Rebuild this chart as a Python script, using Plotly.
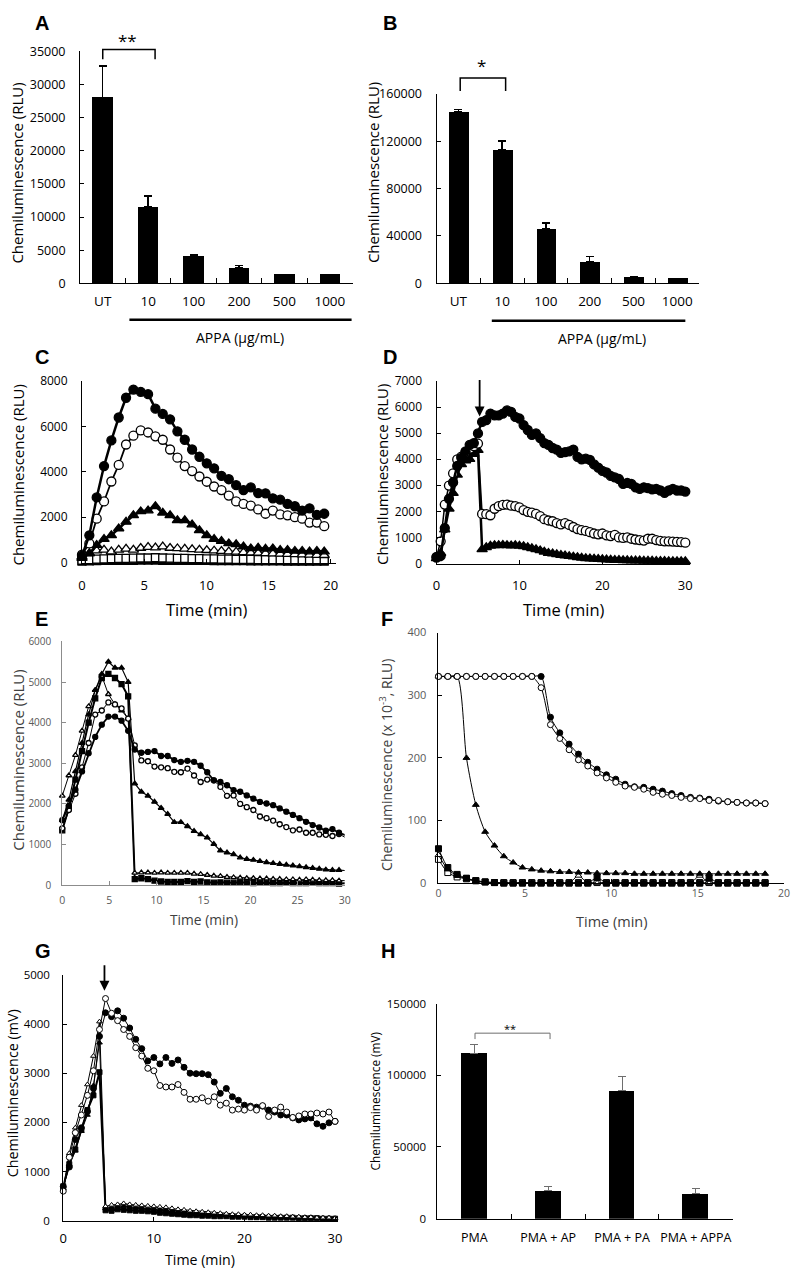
import plotly.graph_objects as go

W, H = 797, 1275
FONT = "Open Sans"


def px(p):
    return p / W


def py(p):
    return 1 - p / H


# ---- A / B : dose bars
dose_labels = ["UT", "10", "100", "200", "500", "1000"]
a_mean = [28000, 11500, 4100, 2300, 1350, 1350]
a_err = [4800, 1700, 150, 400, 0, 0]
b_mean = [144700, 112500, 46100, 18300, 5250, 4200]
b_err = [2200, 7500, 5000, 4450, 0, 0]

# ---- C : kinetics, 0-20 min
c_time = [round(i * 0.59, 2) for i in range(34)]
c_filled_circle = [300, 1200, 2870, 4250, 5380, 6390, 7260, 7620, 7520, 7420,
                   6780, 6550, 6310, 5780, 5410, 4980, 4660, 4370, 4150, 3820,
                   3670, 3410, 3190, 3310, 3060, 3050, 2830, 2770, 2580, 2480,
                   2290, 2390, 2100, 2150]
c_open_circle = [350, 840, 1930, 2690, 3570, 4300, 5200, 5590, 5820, 5730,
                 5560, 5410, 4980, 4620, 4250, 4030, 3790, 3560, 3350, 3190,
                 2950, 2690, 2580, 2510, 2340, 2150, 2290, 2120, 2080, 2000,
                 1930, 1760, 1760, 1600]
c_filled_tri = [190, 400, 770, 1030, 1200, 1500, 1790, 2080, 2250, 2290,
                2480, 2190, 2080, 1860, 1860, 1670, 1420, 1200, 1030, 940,
                840, 800, 700, 620, 650, 600, 620, 550, 550, 510,
                510, 480, 510, 480]
c_open_tri = [250, 400, 520, 560, 480, 560, 600, 560, 640, 680,
              660, 700, 640, 620, 600, 580, 560, 540, 520, 500,
              480, 470, 450, 430, 420, 400, 390, 380, 370, 360,
              350, 340, 330, 320]
c_filled_sq = [60, 70, 80, 90, 90, 100, 100, 100, 110, 110,
               110, 100, 100, 100, 90, 90, 90, 90, 80, 80,
               80, 80, 80, 70, 70, 70, 70, 70, 60, 60,
               60, 60, 60, 60]
c_open_sq = [100, 130, 150, 160, 170, 180, 180, 190, 200, 200,
             210, 200, 190, 180, 180, 170, 170, 160, 160, 150,
             150, 140, 140, 140, 130, 130, 130, 120, 120, 120,
             110, 110, 110, 100]

# ---- D : kinetics with addition at ~5 min
d_time = [i * 0.5 for i in range(61)]
d_filled_circle = [230, 290, 1360, 2480, 3110, 3740, 4050, 4300, 4550, 4620,
                   4990, 5430, 5500, 5750, 5680, 5680, 5750, 5870, 5810, 5620,
                   5560, 5310, 5120, 4930, 4990, 4810, 4620, 4550, 4430, 4370,
                   4240, 4270, 4300, 4370, 4090, 3990, 4020, 3970, 3800, 3680,
                   3550, 3490, 3360, 3300, 3240, 3050, 3090, 3050, 2920, 2860,
                   2920, 2890, 2840, 2860, 2800, 2710, 2800, 2860, 2800, 2800,
                   2760]
d_open_circle = [250, 850, 2260, 2990, 3460, 3990, 4100, 4270, 4400, 4500,
                 4600, 1900, 1890, 1850, 2100, 2200, 2250, 2260, 2220, 2200,
                 2150, 2050, 1980, 1950, 1900, 1820, 1700, 1650, 1620, 1550,
                 1500, 1550, 1480, 1400, 1320, 1280, 1250, 1200, 1150, 1120,
                 1150, 1080, 1050, 1100, 1000, 980, 1000, 950, 920, 900,
                 880, 950, 950, 900, 870, 850, 850, 840, 830, 820,
                 800]
d_filled_tri = [200, 400, 1300, 2100, 2700, 3400, 3800, 3950, 4000, 4200,
                4350, 540, 620, 680, 700, 700, 710, 700, 690, 700,
                680, 660, 620, 580, 540, 500, 450, 400, 380, 350,
                320, 300, 280, 260, 240, 220, 200, 190, 180, 170,
                160, 150, 140, 130, 130, 120, 120, 110, 110, 110,
                100, 100, 100, 90, 90, 90, 80, 80, 80, 80,
                80]

# ---- E : kinetics 0-30 min
e_time = [round(i * 0.7, 2) for i in range(44)]
e_filled_circle = [1600, 1950, 2350, 2800, 3250, 3650, 3950, 4150, 4150, 4050,
                   3800, 3340, 3260, 3280, 3300, 3180, 3180, 3080, 3035, 3060,
                   3035, 2940, 2780, 2580, 2540, 2460, 2340, 2300, 2210, 2130,
                   2050, 2010, 1970, 1890, 1810, 1730, 1650, 1560, 1480, 1420,
                   1340, 1380, 1290, 1230]
e_open_circle = [1400, 1850, 2250, 2900, 3500, 4200, 4300, 4500, 4450, 4350,
                 4100, 3440, 3070, 3050, 2920, 2900, 2880, 2790, 2780, 2870,
                 2700, 2540, 2600, 2580, 2420, 2200, 2210, 2000, 1920, 1850,
                 1690, 1650, 1590, 1500, 1430, 1350, 1370, 1290, 1290, 1250,
                 1240, 1210, 1260, 1170]
e_filled_tri = [1600, 2100, 2800, 3500, 4200, 4800, 5200, 5500, 5350, 5350,
                5000, 2500, 2300, 2200, 2050, 1900, 1750, 1550, 1550, 1450,
                1330, 1250, 1170, 1010, 850, 800, 760, 680, 640, 620,
                590, 560, 540, 520, 500, 480, 460, 440, 420, 400,
                380, 370, 370, 360]
e_open_tri = [2200, 2700, 3200, 3800, 4400, 4800, 5150, 4700, 4450, 4300,
              4100, 300, 310, 310, 300, 310, 300, 300, 300, 300,
              280, 270, 250, 230, 220, 200, 190, 180, 170, 170,
              160, 160, 150, 150, 140, 140, 130, 140, 130, 120,
              120, 120, 110, 110]
e_filled_sq = [1350, 1900, 2600, 3300, 4000, 4600, 5100, 5200, 5100, 4950,
               4650, 150, 170, 150, 110, 90, 80, 80, 80, 100,
               80, 90, 70, 60, 70, 60, 60, 70, 60, 50,
               60, 60, 50, 50, 60, 50, 50, 50, 60, 50,
               50, 50, 40, 50]

# ---- F : kinetics 0-19 min (x 10^-3 RLU)
f_time = [round(i * 0.54, 2) for i in range(36)]
f_open_circle = [330, 330, 330, 330, 330, 330, 330, 330, 330, 330,
                 330, 312, 253, 231, 213, 197, 187, 176, 168, 161,
                 155, 153, 150, 145, 142, 140, 137, 135, 135, 132,
                 132, 130, 129, 128, 128, 127]
f_filled_circle = [330, 330, 330, 330, 330, 330, 330, 330, 330, 330,
                   330, 330, 265, 240, 222, 206, 193, 182, 173, 166,
                   158, 154, 153, 150, 147, 143, 140, 137, 136, 134,
                   131, 130, 129, 128, 128, 127]
f_filled_tri = [330, 330, 330, 200, 125, 82, 60, 43, 33, 25,
                22, 20, 19, 18, 18, 17, 17, 16, 16, 16,
                16, 15, 15, 15, 15, 15, 15, 15, 15, 15,
                15, 15, 15, 15, 15, 15]
f_open_tri = [45, 22, 12, 7, 3, 1, 0, 0, 0, 0,
              0, 0, 0, 0, 0, 12, 0, 0, 0, 0,
              0, 0, 0, 0, 0, 0, 0, 0, 12, 0,
              0, 0, 0, 0, 0, 0]
f_filled_sq = [55, 25, 14, 8, 4, 2, 1, 0, 0, 0,
               0, 0, 0, 0, 0, 0, 0, 9, 0, 0,
               0, 0, 0, 0, 0, 0, 0, 0, 0, 8,
               0, 0, 0, 0, 0, 0]
f_open_sq = [38, 17, 10, 7, 4, 2, 1, 1, 1, 1,
             1, 1, 1, 1, 1, 1, 1, 1, 1, 1,
             1, 1, 1, 1, 1, 1, 1, 1, 1, 1,
             1, 1, 1, 1, 1, 1]

# ---- G : kinetics (mV) with addition at ~4.5 min
g_time = [round(i * 2 / 3, 3) for i in range(46)]
g_open_circle = [600, 1290, 1790, 2150, 2550, 3050, 3890, 4520, 4220, 4070,
                 3890, 3750, 3520, 3350, 3100, 3050, 2750, 2720, 2720, 2770,
                 2610, 2470, 2470, 2500, 2430, 2520, 2350, 2390, 2250, 2270,
                 2250, 2300, 2250, 2340, 2120, 2250, 2310, 2210, 2100, 2130,
                 2170, 2170, 2190, 2170, 2210, 2020]
g_filled_circle = [690, 1090, 1650, 1890, 2220, 2690, 3750, 4230, 4150, 4270,
                   4120, 3920, 3690, 3500, 3250, 3320, 3190, 3320, 3200, 3270,
                   3120, 3000, 2990, 2990, 2970, 2820, 2590, 2690, 2520, 2450,
                   2350, 2330, 2310, 2330, 2250, 2210, 2150, 2150, 2090, 2050,
                   2070, 2090, 1970, 1920, 1990, 2020]
g_open_tri = [650, 1370, 1890, 2350, 2770, 3350, 4050, 290, 320, 330,
              350, 330, 320, 310, 300, 290, 280, 270, 250, 230,
              220, 200, 190, 180, 170, 160, 150, 140, 130, 130,
              120, 120, 110, 110, 100, 100, 90, 90, 80, 80,
              70, 70, 60, 60, 60, 50]
g_filled_tri = [650, 1150, 1420, 1820, 2150, 2750, 3620, 250, 270, 280,
                300, 280, 270, 260, 250, 240, 230, 220, 200, 190,
                180, 170, 160, 150, 140, 130, 120, 110, 110, 100,
                100, 90, 90, 80, 80, 70, 70, 70, 60, 60,
                60, 50, 50, 50, 50, 40]
g_filled_sq = [700, 1150, 1450, 1850, 2250, 2550, 3020, 210, 200, 230,
               220, 210, 200, 200, 190, 180, 160, 150, 140, 130,
               120, 110, 110, 100, 100, 90, 90, 90, 80, 80,
               80, 70, 70, 70, 60, 60, 60, 60, 60, 50,
               50, 50, 50, 40, 40, 40]

# ---- H : treatment bars
h_labels = ["PMA", "PMA + AP", "PMA + PA", "PMA + APPA"]
h_mean = [115500, 19750, 89500, 17200]
h_err = [5800, 2750, 9500, 3500]

fig = go.Figure()


def ref(kind, n):
    return kind + ("" if n == 1 else str(n))


def add_bars(n, cats, vals, errs, width, ecolor, ethick):
    fig.add_trace(go.Bar(
        x=cats, y=vals, width=width,
        marker=dict(color="black", line=dict(width=0)),
        error_y=dict(type="data", symmetric=False, array=errs,
                     arrayminus=[0] * len(errs), color=ecolor,
                     thickness=ethick, width=4),
        xaxis=ref("x", n), yaxis=ref("y", n), showlegend=False))


def add_series(n, t, y, symbol, filled, size, lw, shape="linear", mlw=1.3):
    fig.add_trace(go.Scatter(
        x=t, y=y, mode="lines+markers",
        line=dict(color="black", width=lw, shape=shape, smoothing=0.7),
        marker=dict(symbol=symbol, size=size,
                    color="black" if filled else "white",
                    line=dict(color="black", width=mlw)),
        cliponaxis=False,
        xaxis=ref("x", n), yaxis=ref("y", n), showlegend=False))


add_bars(1, dose_labels, a_mean, a_err, 0.45, "black", 1.5)
add_bars(2, dose_labels, b_mean, b_err, 0.45, "black", 1.5)

add_series(3, c_time, c_filled_sq, "square", True, 8, 1.5)
add_series(3, c_time, c_open_sq, "square", False, 8, 1.5)
add_series(3, c_time, c_open_tri, "triangle-up", False, 9, 1.5)
add_series(3, c_time, c_filled_tri, "triangle-up", True, 9, 2.5)
add_series(3, c_time, c_open_circle, "circle", False, 9, 1.8)
add_series(3, c_time, c_filled_circle, "circle", True, 9, 2.5)

add_series(4, d_time, d_filled_tri, "triangle-up", True, 9, 2.5)
add_series(4, d_time, d_open_circle, "circle", False, 9, 1.5)
add_series(4, d_time, d_filled_circle, "circle", True, 9, 2.5)

add_series(5, e_time, e_filled_sq, "square", True, 5, 2)
add_series(5, e_time, e_open_tri, "triangle-up", False, 5, 1)
add_series(5, e_time, e_filled_tri, "triangle-up", True, 5, 1.2)
add_series(5, e_time, e_open_circle, "circle", False, 5, 1)
add_series(5, e_time, e_filled_circle, "circle", True, 5, 1.8)

add_series(6, f_time, f_open_sq, "square", False, 6, 1, "spline", 1)
add_series(6, f_time, f_open_tri, "triangle-up", False, 6, 1, "spline", 1)
add_series(6, f_time, f_filled_sq, "square", True, 6, 1, "spline", 1)
add_series(6, f_time, f_filled_tri, "triangle-up", True, 6, 1, "spline", 1)
add_series(6, f_time, f_filled_circle, "circle", True, 6, 1, "spline", 1)
add_series(6, f_time, f_open_circle, "circle", False, 6, 1, "spline", 1)

add_series(7, g_time, g_filled_sq, "square", True, 5, 2, mlw=1)
add_series(7, g_time, g_filled_tri, "triangle-up", True, 5, 1, mlw=1)
add_series(7, g_time, g_open_tri, "triangle-up", False, 5, 1, mlw=1)
add_series(7, g_time, g_filled_circle, "circle", True, 6, 1, mlw=1)
add_series(7, g_time, g_open_circle, "circle", False, 6, 1, mlw=1)

add_bars(8, h_labels, h_mean, h_err, 0.35, "#6e6e6e", 1)

# ---- axes: x-domain px, y top/bottom px, ranges, fonts, label standoffs
panels = {
    1: dict(x=(77, 353), y=(43, 278), xr=[-0.5, 5.5], yr=[0, 35000], ydt=5000,
            cat=True, xfs=13.5, yfs=12.5, xso=6, yso=11),
    2: dict(x=(438, 704), y=(86, 278), xr=[-0.5, 5.5], yr=[0, 160000], ydt=40000,
            cat=True, xfs=13.5, yfs=12.5, xso=6, yso=11),
    3: dict(x=(79, 336), y=(377, 561), xr=[0, 20.4], yr=[0, 8000], ydt=2000,
            xdt=5, xfs=13, yfs=12, xso=11, yso=11),
    4: dict(x=(438, 695), y=(377, 562), xr=[0, 30.6], yr=[0, 7000], ydt=1000,
            xdt=10, xfs=13, yfs=12, xso=10, yso=11),
    5: dict(x=(59, 345), y=(641, 888), xr=[0, 30], yr=[0, 6000], ydt=1000,
            xdt=5, xfs=10.5, yfs=10, xso=5, yso=8, grey=True),
    6: dict(x=(440, 790), y=(632, 886), xr=[0, 20], yr=[0, 400], ydt=100,
            xdt=5, xfs=10.5, yfs=11, xso=0, yso=9, grey=True),
    7: dict(x=(60, 338), y=(979, 1228), xr=[0, 30.3], yr=[0, 5000], ydt=1000,
            xdt=10, xfs=13, yfs=11.5, xso=6, yso=10),
    8: dict(x=(439, 738), y=(1008, 1226), xr=[-0.5, 3.5], yr=[0, 150000], ydt=50000,
            cat=True, xfs=12.5, yfs=11.5, xso=7, yso=8),
}

layout_axes = {}
for n, p in panels.items():
    tcol = "#595959" if p.get("grey") else "black"
    lcol = "#8c8c8c" if n == 5 else "black"
    xa = dict(domain=[px(p["x"][0]), px(p["x"][1])], range=p["xr"],
              anchor=ref("y", n), showline=True, linecolor=lcol, linewidth=1,
              showgrid=False, zeroline=False, ticks="inside", ticklen=4,
              tickcolor=lcol, ticklabelstandoff=p["xso"], tickangle=0,
              tickfont=dict(family=FONT, size=p["xfs"], color=tcol))
    if p.get("cat"):
        xa.update(type="category", tickson="boundaries", ticklen=5)
    else:
        xa.update(dtick=p["xdt"], tick0=0)
    ya = dict(domain=[py(p["y"][1]), py(p["y"][0])], range=p["yr"],
              dtick=p["ydt"], tick0=0, tickformat="d", anchor=ref("x", n),
              showline=True, linecolor=lcol, linewidth=1, showgrid=False,
              zeroline=False, ticks="inside", ticklen=4, tickcolor=lcol,
              ticklabelstandoff=p["yso"],
              tickfont=dict(family=FONT, size=p["yfs"], color=tcol))
    layout_axes[ref("xaxis", n)] = xa
    layout_axes[ref("yaxis", n)] = ya

annotations = []


def label(text, x, y, size, color="black", angle=0, family=FONT):
    annotations.append(dict(text=text, x=px(x), y=py(y), xref="paper", yref="paper",
                            showarrow=False, xanchor="center", yanchor="middle",
                            textangle=angle,
                            font=dict(family=family, size=size, color=color)))


# panel letters
for t, x, y in [("A", 38, 14), ("B", 391, 14), ("C", 38, 353), ("D", 391, 353),
                ("E", 38, 618), ("F", 388, 618), ("G", 39, 955), ("H", 389, 955)]:
    label("<b>%s</b>" % t, x, y, 20, family="Liberation Sans")

# axis titles
label("Chemiluminescence (RLU)", 13, 166, 15, angle=-90)
label("Chemiluminescence (RLU)", 373, 166, 15, angle=-90)
label("Chemiluminescence (RLU)", 14, 472, 15, angle=-90)
label("Chemiluminescence (RLU)", 383, 472, 15, angle=-90)
label("Chemiluminescence (RLU)", 14, 761, 15, color="#404040", angle=-90)
label("Chemiluminescence (x 10<sup>-3</sup>, RLU)", 387, 766, 14, color="#404040", angle=-90)
label("Chemiluminescence (mV)", 8, 1099, 14.3, angle=-90)
label("Chemiluminescence (mV)", 376, 1107, 11.8, angle=-90)

label("APPA (µg/mL)", 239, 333, 14)
label("APPA (µg/mL)", 606, 334, 14)
label("Time (min)", 206, 609, 16.5)
label("Time (min)", 567, 609, 16.5)
label("Time (min)", 203, 923, 13.8, color="#404040")
label("Time (min)", 616, 925, 14.5, color="#404040")
label("Time (min)", 198, 1267, 14.2)

# significance marks
label("**", 125, 32, 17)
label("*", 484, 57, 17)
label("**", 512, 1033, 11)

shapes = []


def bracket(x0, x1, ytop, ybot, color="black", w=1.5):
    path = "M %f,%f L %f,%f L %f,%f L %f,%f" % (px(x0), py(ybot), px(x0), py(ytop),
                                                 px(x1), py(ytop), px(x1), py(ybot))
    shapes.append(dict(type="path", path=path, xref="paper", yref="paper",
                       line=dict(color=color, width=w)))


bracket(100, 153, 41, 51)
bracket(462, 508, 70, 83)
bracket(477, 553, 1038, 1044, color="#6e6e6e", w=1)

for x0, x1, y in [(127, 352, 315), (494, 690, 316)]:
    shapes.append(dict(type="line", xref="paper", yref="paper", x0=px(x0), x1=px(x1),
                       y0=py(y), y1=py(y), line=dict(color="black", width=2.5)))

# addition arrows
annotations.append(dict(text="", x=5.2, y=5640, xref="x4", yref="y4", showarrow=True,
                        ax=0, ay=-38, arrowhead=2, arrowsize=1.1, arrowwidth=1.8,
                        arrowcolor="black"))
annotations.append(dict(text="", x=4.55, y=4680, xref="x7", yref="y7", showarrow=True,
                        ax=0, ay=-27, arrowhead=2, arrowsize=1.1, arrowwidth=1.8,
                        arrowcolor="black"))

fig.update_layout(
    width=W, height=H, margin=dict(l=0, r=0, t=0, b=0),
    paper_bgcolor="white", plot_bgcolor="white",
    font=dict(family=FONT, color="black"),
    annotations=annotations, shapes=shapes, bargap=0,
    **layout_axes)

fig.write_html("out.html", config={"displayModeBar": False},
               post_script="document.body.style.margin='0';")
